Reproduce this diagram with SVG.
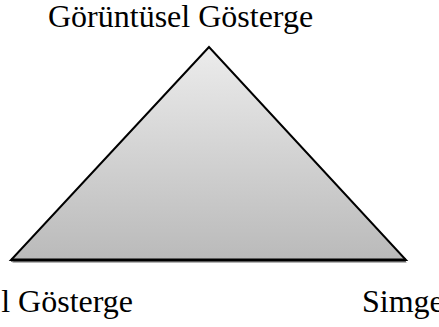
<svg xmlns="http://www.w3.org/2000/svg" width="439" height="327" viewBox="0 0 439 327">
<defs>
<linearGradient id="g" x1="0" y1="0" x2="0" y2="1">
<stop offset="0" stop-color="#ececec"/>
<stop offset="1" stop-color="#bababa"/>
</linearGradient>
<style>
.t{font-family:"Liberation Serif","Times New Roman",serif;font-size:32px;fill:#000}
</style>
</defs>
<g id="triangle">
<polygon points="210,50 12,263 407,263" fill="#b4b4b4"/>
<polygon points="209,47 11,260 406,260" fill="url(#g)" stroke="#000" stroke-width="2" stroke-linejoin="miter"/>
<line x1="11" y1="260" x2="406" y2="260" stroke="#000" stroke-width="3"/>
</g>
<g id="label-top"><text class="t" x="48" y="27">Görüntüsel Gösterge</text></g>
<g id="label-left"><text class="t" x="133" y="312" text-anchor="end">l Gösterge</text></g>
<g id="label-right"><text class="t" x="362" y="312">Simge</text></g>
</svg>
